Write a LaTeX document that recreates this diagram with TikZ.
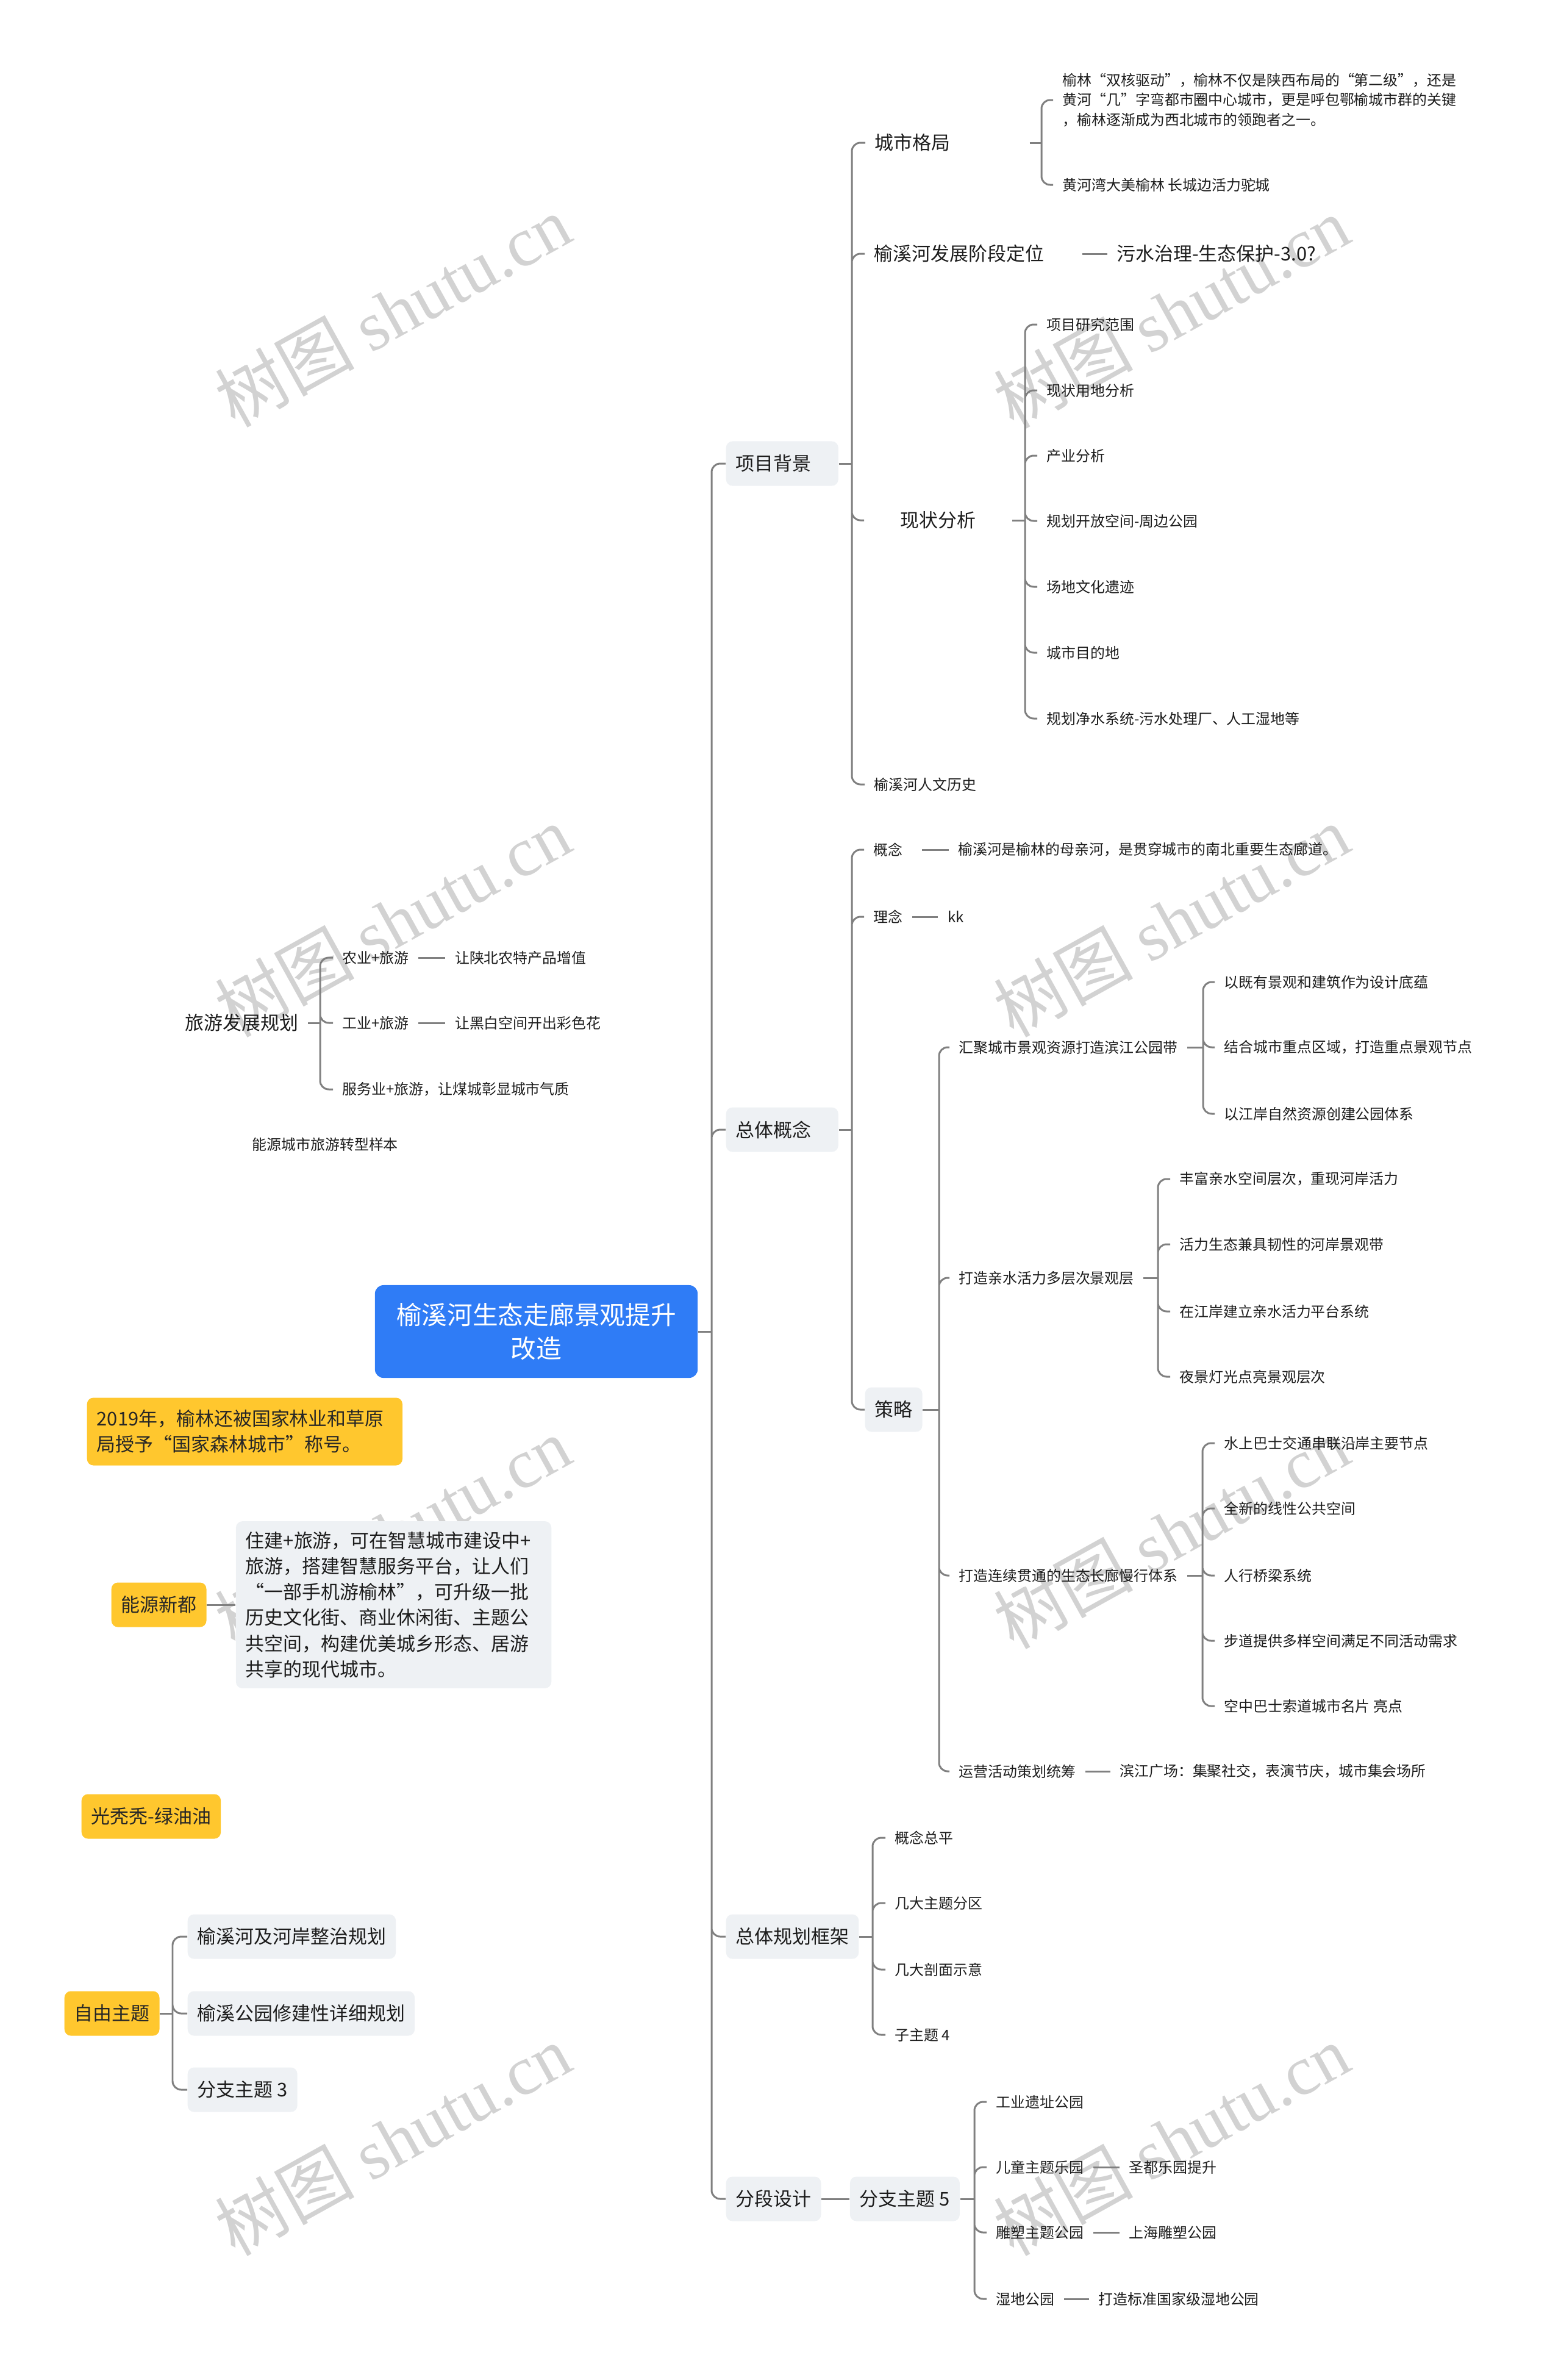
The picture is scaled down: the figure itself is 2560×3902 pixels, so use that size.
\documentclass[tikz,border=0pt]{standalone}
\usepackage{fontspec}
\setmainfont{Noto Sans CJK SC}
\newfontfamily\wmfont{Liberation Serif}
\usetikzlibrary{positioning}
\definecolor{linegray}{HTML}{808080}
\definecolor{boxgray}{HTML}{EEF1F4}
\definecolor{noteyellow}{HTML}{FFC72E}
\definecolor{rootblue}{HTML}{2F7CF6}
\definecolor{inkgray}{HTML}{1C1C1C}
\definecolor{markgray}{HTML}{D2D2D2}
\newcommand{\fszbig}{\fontsize{11.85pt}{15.6pt}\selectfont}
\newcommand{\fszmid}{\fontsize{8.8pt}{12pt}\selectfont}
\newcommand{\fszsml}{\fontsize{6.8pt}{9.25pt}\selectfont}
\tikzset{
  link/.style={draw=linegray, line width=0.85pt, rounded corners=4pt},
  leaf/.style={anchor=west, inner xsep=0.15cm, inner ysep=0.05cm, font=\fszsml, text=inkgray},
  subtopic/.style={anchor=west, inner xsep=0.15cm, inner ysep=0.05cm, font=\fszmid, text=inkgray},
  topicbox/.style={anchor=west, fill=boxgray, rounded corners=3pt, inner xsep=0.16cm,
    minimum height=0.73cm, font=\fszmid, text=inkgray, align=left},
  notebox/.style={topicbox, fill=noteyellow, text=black!85},
  rootbox/.style={fill=rootblue, rounded corners=4pt, text=white, font=\fszbig, align=center,
    text width=4.59cm, inner xsep=0.35cm, minimum height=1.52cm},
  wmark/.style={rotate=29, text=markgray, font=\fontsize{32.5pt}{32.5pt}\selectfont},
}
\begin{document}
\begin{tikzpicture}[x=0.01cm, y=-0.01cm]
\useasboundingbox (0,0) rectangle (2560,3902);

\node[wmark] (wm1) at (644,510) {树图 {\wmfont shutu.cn}};
\node[wmark] (wm2) at (1921,512) {树图 {\wmfont shutu.cn}};
\node[wmark] (wm3) at (644,1510) {树图 {\wmfont shutu.cn}};
\node[wmark] (wm4) at (1921,1510) {树图 {\wmfont shutu.cn}};
\node[wmark] (wm5) at (644,2513) {树图 {\wmfont shutu.cn}};
\node[wmark] (wm6) at (1921,2513) {树图 {\wmfont shutu.cn}};
\node[wmark] (wm7) at (644,3508) {树图 {\wmfont shutu.cn}};
\node[wmark] (wm8) at (1921,3508) {树图 {\wmfont shutu.cn}};

\node[rootbox] (root) at (879.5,2183) {榆溪河生态走廊景观提升\\改造};

\node[topicbox, text width=1.52cm] (bg) at (1190,760) {项目背景};
\node[topicbox, text width=1.52cm] (gn) at (1190,1852) {总体概念};
\node[topicbox] (gh) at (1190,3175) {总体规划框架};
\node[topicbox] (fd) at (1190,3605) {分段设计};
\node[topicbox, right=0.46cm of fd] (zt) {分支主题 5};

\node[subtopic, text width=2.38cm, align=left] (cg) at (1419,234) {城市格局};
\node[leaf, align=left] (cg1) at (1727,164) {榆林“双核驱动”，榆林不仅是陕西布局的“第二级”，还是\\黄河“几”字弯都市圈中心城市，更是呼包鄂榆城市群的关键\\，榆林逐渐成为西北城市的领跑者之一。};
\node[leaf] (cg2) at (1727,303) {黄河湾大美榆林 长城边活力驼城};
\node[subtopic, text width=3.25cm, align=left] (fz) at (1418,416) {榆溪河发展阶段定位};
\node[subtopic, right=0.41cm of fz] (fzv) {污水治理-生态保护-3.0?};
\node[subtopic, minimum width=2.41cm, inner xsep=0pt] (xz) at (1417,853) {现状分析};
\node[leaf] (xz1) at (1701,532) {项目研究范围};
\node[leaf] (xz2) at (1701,640) {现状用地分析};
\node[leaf] (xz3) at (1701,747) {产业分析};
\node[leaf] (xz4) at (1701,854) {规划开放空间-周边公园};
\node[leaf] (xz5) at (1701,962) {场地文化遗迹};
\node[leaf] (xz6) at (1701,1070) {城市目的地};
\node[leaf] (xz7) at (1701,1178) {规划净水系统-污水处理厂、人工湿地等};
\node[leaf] (rw) at (1418,1286) {榆溪河人文历史};

\node[leaf, text width=0.64cm, align=left] (gn1) at (1417,1393) {概念};
\node[leaf, right=0.43cm of gn1] (gn1v) {榆溪河是榆林的母亲河，是贯穿城市的南北重要生态廊道。};
\node[leaf] (gn2) at (1417,1503) {理念};
\node[leaf, right=0.42cm of gn2] (gn2v) {kk};
\node[topicbox] (cl) at (1418,2311) {策略};

\node[leaf] (hj) at (1557,1717) {汇聚城市景观资源打造滨江公园带};
\node[leaf] (hj1) at (1992,1610) {以既有景观和建筑作为设计底蕴};
\node[leaf] (hj2) at (1992,1717) {结合城市重点区域，打造重点景观节点};
\node[leaf] (hj3) at (1992,1826) {以江岸自然资源创建公园体系};
\node[leaf] (qs) at (1557,2095) {打造亲水活力多层次景观层};
\node[leaf] (qs1) at (1919,1933) {丰富亲水空间层次，重现河岸活力};
\node[leaf] (qs2) at (1919,2040) {活力生态兼具韧性的河岸景观带};
\node[leaf] (qs3) at (1919,2150) {在江岸建立亲水活力平台系统};
\node[leaf] (qs4) at (1919,2257) {夜景灯光点亮景观层次};
\node[leaf] (lx) at (1557,2583) {打造连续贯通的生态长廊慢行体系};
\node[leaf] (lx1) at (1992,2366) {水上巴士交通串联沿岸主要节点};
\node[leaf] (lx2) at (1992,2473) {全新的线性公共空间};
\node[leaf] (lx3) at (1992,2583) {人行桥梁系统};
\node[leaf] (lx4) at (1992,2690) {步道提供多样空间满足不同活动需求};
\node[leaf] (lx5) at (1992,2797) {空中巴士索道城市名片 亮点};
\node[leaf] (yy) at (1557,2904) {运营活动策划统筹};
\node[leaf, right=0.41cm of yy] (yyv) {滨江广场：集聚社交，表演节庆，城市集会场所};

\node[leaf] (gh1) at (1452,3013) {概念总平};
\node[leaf] (gh2) at (1452,3120) {几大主题分区};
\node[leaf] (gh3) at (1452,3229) {几大剖面示意};
\node[leaf] (gh4) at (1452,3336) {子主题 4};

\node[leaf] (zt1) at (1618,3446) {工业遗址公园};
\node[leaf] (zt2) at (1618,3553) {儿童主题乐园};
\node[leaf, right=0.43cm of zt2] (zt2v) {圣都乐园提升};
\node[leaf] (zt3) at (1618,3660) {雕塑主题公园};
\node[leaf, right=0.43cm of zt3] (zt3v) {上海雕塑公园};
\node[leaf] (zt4) at (1618,3769) {湿地公园};
\node[leaf, right=0.41cm of zt4] (zt4v) {打造标准国家级湿地公园};

\node[subtopic] (ly) at (288,1677) {旅游发展规划};
\node[leaf] (ly1) at (546,1570) {农业+旅游};
\node[leaf, right=0.44cm of ly1] (ly1v) {让陕北农特产品增值};
\node[leaf] (ly2) at (546,1677) {工业+旅游};
\node[leaf, right=0.44cm of ly2] (ly2v) {让黑白空间开出彩色花};
\node[leaf] (ly3) at (546,1786) {服务业+旅游，让煤城彰显城市气质};
\node[leaf] (yb) at (398,1876) {能源城市旅游转型样本};

\node[notebox, text width=4.85cm, inner ysep=0.2cm] (sl) at (142,2347) {2019年，榆林还被国家林业和草原\\局授予“国家森林城市”称号。};
\node[notebox] (ny) at (182,2631) {能源新都};
\node[topicbox, right=0.47cm of ny, text width=4.85cm, inner ysep=0.17cm] (nyt) {住建+旅游，可在智慧城市建设中+\\旅游，搭建智慧服务平台，让人们\\“一部手机游榆林”，可升级一批\\历史文化街、商业休闲街、主题公\\共空间，构建优美城乡形态、居游\\共享的现代城市。};
\node[notebox] (gt) at (133,2978) {光秃秃-绿油油};
\node[notebox] (zy) at (105,3301) {自由主题};
\node[topicbox] (zy1) at (307,3175) {榆溪河及河岸整治规划};
\node[topicbox] (zy2) at (307,3301) {榆溪公园修建性详细规划};
\node[topicbox] (zy3) at (307,3426) {分支主题 3};

\coordinate (rj) at (1167,2183);
\coordinate (bgj) at (1397,760);
\coordinate (cgj) at (1708,234);
\coordinate (xzj) at (1681,853);
\coordinate (gnj) at (1397,1852);
\coordinate (clj) at (1540,2311);
\coordinate (hjj) at (1973,1717);
\coordinate (qsj) at (1899,2095);
\coordinate (lxj) at (1972,2583);
\coordinate (ghj) at (1431,3175);
\coordinate (ztj) at (1598,3605);
\coordinate (lyj) at (525,1677);
\coordinate (zyj) at (283,3301);

\draw[link] (root.east) -- (rj);
\draw[link] (rj) |- (bg.west) (rj) |- (gn.west) (rj) |- (gh.west) (rj) |- (fd.west);
\draw[link] (bg.east) -- (bgj);
\draw[link] (bgj) |- (cg.west) (bgj) |- (fz.west) (bgj) |- (xz.west) (bgj) |- (rw.west);
\draw[link] (cg.east) -- (cgj);
\draw[link] (cgj) |- (cg1.west) (cgj) |- (cg2.west);
\draw[link] (fz) -- (fzv);
\draw[link] (xz.east) -- (xzj);
\draw[link] (xzj) |- (xz1.west) (xzj) |- (xz2.west) (xzj) |- (xz3.west) (xzj) |- (xz4.west)
  (xzj) |- (xz5.west) (xzj) |- (xz6.west) (xzj) |- (xz7.west);
\draw[link] (gn.east) -- (gnj);
\draw[link] (gnj) |- (gn1.west) (gnj) |- (gn2.west) (gnj) |- (cl.west);
\draw[link] (gn1) -- (gn1v);
\draw[link] (gn2) -- (gn2v);
\draw[link] (cl.east) -- (clj);
\draw[link] (clj) |- (hj.west) (clj) |- (qs.west) (clj) |- (lx.west) (clj) |- (yy.west);
\draw[link] (hj.east) -- (hjj);
\draw[link] (hjj) |- (hj1.west) (hjj) |- (hj2.west) (hjj) |- (hj3.west);
\draw[link] (qs.east) -- (qsj);
\draw[link] (qsj) |- (qs1.west) (qsj) |- (qs2.west) (qsj) |- (qs3.west) (qsj) |- (qs4.west);
\draw[link] (lx.east) -- (lxj);
\draw[link] (lxj) |- (lx1.west) (lxj) |- (lx2.west) (lxj) |- (lx3.west) (lxj) |- (lx4.west) (lxj) |- (lx5.west);
\draw[link] (yy) -- (yyv);
\draw[link] (gh.east) -- (ghj);
\draw[link] (ghj) |- (gh1.west) (ghj) |- (gh2.west) (ghj) |- (gh3.west) (ghj) |- (gh4.west);
\draw[link] (fd) -- (zt);
\draw[link] (zt.east) -- (ztj);
\draw[link] (ztj) |- (zt1.west) (ztj) |- (zt2.west) (ztj) |- (zt3.west) (ztj) |- (zt4.west);
\draw[link] (zt2) -- (zt2v);
\draw[link] (zt3) -- (zt3v);
\draw[link] (zt4) -- (zt4v);
\draw[link] (ly.east) -- (lyj);
\draw[link] (lyj) |- (ly1.west) (lyj) |- (ly2.west) (lyj) |- (ly3.west);
\draw[link] (ly1) -- (ly1v);
\draw[link] (ly2) -- (ly2v);
\draw[link] (ny) -- (nyt);
\draw[link] (zy.east) -- (zyj);
\draw[link] (zyj) |- (zy1.west) (zyj) |- (zy2.west) (zyj) |- (zy3.west);
\end{tikzpicture}
\end{document}
